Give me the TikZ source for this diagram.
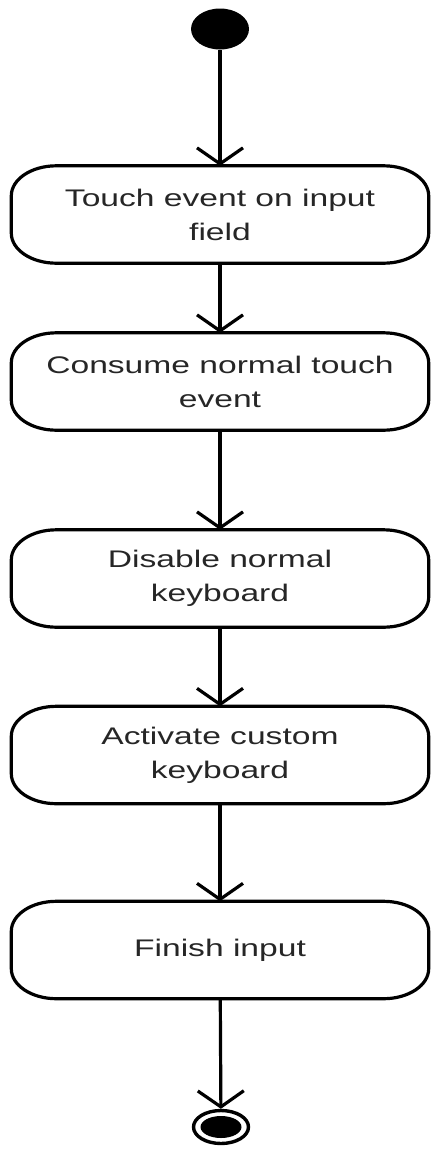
\documentclass[tikz,border=0pt]{standalone}
\usepackage{fontspec}
\setmainfont{Liberation Sans}[FakeStretch=1.4]
\usetikzlibrary{arrows.meta,shapes.geometric}
\tikzset{
  boxtext/.style={minimum width=417pt, minimum height=97pt, inner sep=0pt, align=center,
    text=black!85, font=\fontsize{24}{34}\selectfont},
  boxline/.style={line width=3.2pt, draw=black},
  flow/.style={line width=3.2pt, -{Straight Barb[length=16pt,width=46pt]}},
}
\newcommand\actbox[3]{%
  \node[boxtext] (#1) at (220,-#2) {#3};
  \draw[boxline] ([xshift=45pt]#1.north west) -- ([xshift=-45pt]#1.north east)
    arc[start angle=90,end angle=0,x radius=45pt,y radius=30pt]
    -- ([yshift=30pt]#1.south east)
    arc[start angle=0,end angle=-90,x radius=45pt,y radius=30pt]
    -- ([xshift=45pt]#1.south west)
    arc[start angle=270,end angle=180,x radius=45pt,y radius=30pt]
    -- ([yshift=-30pt]#1.north west)
    arc[start angle=180,end angle=90,x radius=45pt,y radius=30pt] -- cycle;
}
\begin{document}
\begin{tikzpicture}[x=1pt,y=1pt]
\useasboundingbox (0,0) rectangle (435,-1149);
\node[ellipse, fill=black, minimum width=58pt, minimum height=41pt, inner sep=0pt] (start) at (220,-29) {};
\actbox{b1}{214.5}{Touch event on input\\field}
\actbox{b2}{381.5}{Consume normal touch\\event}
\actbox{b3}{578.5}{Disable normal\\keyboard}
\actbox{b4}{755}{Activate custom\\keyboard}
\actbox{b5}{950}{Finish input}
\node[ellipse, draw=black, line width=3.4pt, minimum width=55pt, minimum height=33pt, inner sep=0pt] (end) at (221,-1127) {};
\node[ellipse, fill=black, minimum width=41pt, minimum height=22pt, inner sep=0pt] (endin) at (end.center) {};
\draw[flow] (start) -- (b1);
\draw[flow] (b1) -- (b2);
\draw[flow] (b2) -- (b3);
\draw[flow] (b3) -- (b4);
\draw[flow] (b4) -- (b5);
\draw[flow] (b5) -- (end);
\end{tikzpicture}
\end{document}
